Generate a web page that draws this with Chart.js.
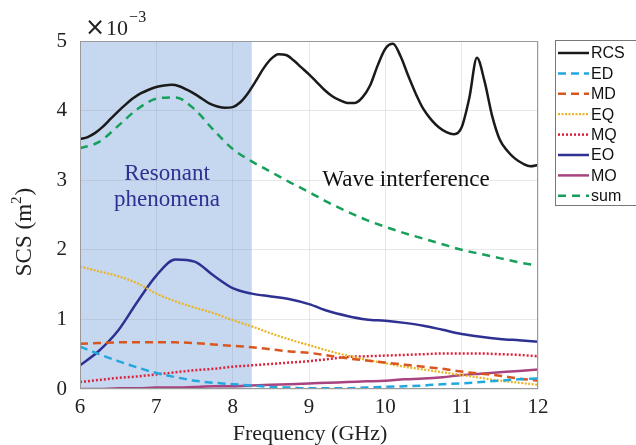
<!DOCTYPE html>
<html><head><meta charset="utf-8">
<script src="https://cdn.jsdelivr.net/npm/chart.js@4/dist/chart.umd.min.js"></script>
<style>html,body{margin:0;padding:0;background:#fff}#c{display:block}</style>
</head><body>
<canvas id="c" width="636" height="445"></canvas>
<script>
// Frequency grids (GHz)
const freqFine = [6.0,6.1,6.2,6.3,6.4,6.5,6.6,6.7,6.8,6.9,7.0,7.1,7.2,7.3,7.4,7.5,7.6,7.7,7.8,7.9,8.0,8.1,8.2,8.3,8.4,8.5,8.6,8.7,8.8,8.9,9.0,9.1,9.2,9.3,9.4,9.5,9.6,9.7,9.8,9.9,10.0,10.1,10.2,10.3,10.4,10.5,10.6,10.7,10.8,10.9,11.0,11.1,11.2,11.3,11.4,11.5,11.6,11.7,11.8,11.9,12.0];
const freq = [6.0,6.25,6.5,6.75,7.0,7.25,7.5,7.75,8.0,8.25,8.5,8.75,9.0,9.25,9.5,9.75,10.0,10.25,10.5,10.75,11.0,11.25,11.5,11.75,12.0];
// SCS values (x 1e-3 m^2)
const RCS = [3.59,3.62,3.68,3.77,3.88,3.99,4.09,4.18,4.25,4.30,4.34,4.36,4.37,4.35,4.30,4.24,4.17,4.10,4.06,4.04,4.05,4.12,4.25,4.42,4.60,4.74,4.81,4.80,4.72,4.62,4.52,4.41,4.30,4.21,4.15,4.11,4.11,4.19,4.36,4.65,4.89,4.96,4.78,4.50,4.24,4.02,3.87,3.76,3.69,3.66,3.76,4.18,4.76,4.42,3.92,3.58,3.42,3.31,3.24,3.20,3.22];
const ED  = [0.61,0.50,0.40,0.31,0.23,0.17,0.12,0.09,0.07,0.05,0.03,0.02,0.01,0.01,0.01,0.02,0.03,0.04,0.05,0.07,0.08,0.10,0.12,0.14,0.15];
const MD  = [0.65,0.66,0.67,0.67,0.67,0.67,0.66,0.64,0.62,0.60,0.57,0.54,0.52,0.48,0.44,0.41,0.38,0.35,0.32,0.29,0.25,0.22,0.19,0.15,0.12];
const EQ  = [1.76,1.69,1.62,1.52,1.37,1.26,1.17,1.09,0.99,0.90,0.80,0.71,0.63,0.55,0.48,0.42,0.37,0.32,0.28,0.24,0.20,0.16,0.12,0.09,0.06];
const MQ  = [0.10,0.13,0.16,0.18,0.21,0.24,0.27,0.29,0.32,0.34,0.36,0.38,0.40,0.43,0.46,0.47,0.48,0.49,0.50,0.51,0.51,0.51,0.50,0.49,0.47];
const EO  = [0.34,0.55,0.84,1.25,1.63,1.86,1.83,1.63,1.45,1.37,1.33,1.29,1.22,1.12,1.05,1.00,0.98,0.95,0.91,0.85,0.79,0.75,0.72,0.70,0.68];
const MO  = [0.00,0.00,0.01,0.01,0.02,0.02,0.03,0.04,0.04,0.05,0.06,0.07,0.08,0.09,0.10,0.11,0.12,0.14,0.15,0.17,0.20,0.22,0.24,0.26,0.28];
const SUM = [3.46,3.55,3.78,4.02,4.17,4.19,4.02,3.72,3.45,3.27,3.12,2.97,2.83,2.68,2.55,2.43,2.33,2.24,2.16,2.08,2.00,1.94,1.88,1.82,1.77];
const xTicks = [6,7,8,9,10,11,12];
const yTicks = [0,1,2,3,4,5];
const resonantRange = [6, 8.25];

const pts = (xs, ys) => xs.map((x, i) => ({x: x, y: ys[i]}));
const SERIF = '"Liberation Serif","DejaVu Serif",serif';

function ds(label, xs, ys, color, dash, width) {
  return {label, data: pts(xs, ys), borderColor: color, borderDash: dash, borderWidth: width,
    pointRadius: 0, fill: false, cubicInterpolationMode: 'monotone'};
}

const datasets = [
  ds('RCS', freqFine, RCS, '#1a1a1a', [], 2.5),
  ds('ED', freq, ED, '#22a7df', [8, 5], 2.5),
  ds('MD', freq, MD, '#d9561e', [8, 5], 2.5),
  ds('EQ', freq, EQ, '#e9b322', [2, 1.5], 2.2),
  ds('MQ', freq, MQ, '#e0213b', [2, 2], 2.5),
  ds('EO', freq, EO, '#2e3192', [], 2.5),
  ds('MO', freq, MO, '#a8447f', [], 2.5),
  ds('sum', freq, SUM, '#17a05a', [8, 6], 2.5)
];

const decor = {
  id: 'decor',
  beforeDraw(chart) {
    const {ctx, chartArea: a, scales: {x}} = chart;
    ctx.save();
    ctx.fillStyle = '#c6d8ef';
    const x0 = x.getPixelForValue(resonantRange[0]), x1 = x.getPixelForValue(resonantRange[1]);
    ctx.fillRect(x0, a.top, x1 - x0, a.bottom - a.top);
    ctx.restore();
  },
  afterDraw(chart) {
    const {ctx, chartArea: a} = chart;
    ctx.save();
    // box
    ctx.strokeStyle = '#9a9a9a'; ctx.lineWidth = 1;
    ctx.strokeRect(a.left + 0.5, a.top + 0.5, a.right - a.left - 1, a.bottom - a.top - 1);
    // exponent
    ctx.fillStyle = '#222'; ctx.textBaseline = 'alphabetic'; ctx.textAlign = 'left';
    ctx.font = '24px "DejaVu Sans",sans-serif';
    ctx.fillText('\u00d7', 85, 35);
    const wx = ctx.measureText('\u00d7').width;
    ctx.font = '22px ' + SERIF;
    ctx.fillText('10', 85 + wx + 1, 35);
    const w = wx + 1 + ctx.measureText('10').width;
    ctx.font = '16px ' + SERIF;
    ctx.fillText('\u22123', 85 + w + 1, 22);
    // axis titles
    ctx.font = '22px ' + SERIF; ctx.textAlign = 'center';
    ctx.fillText('Frequency (GHz)', 310, 440);
    ctx.save();
    ctx.translate(31, 232); ctx.rotate(-Math.PI / 2);
    ctx.textAlign = 'left';
    const t1 = 'SCS (m', t2 = '2', t3 = ')';
    ctx.font = '23px ' + SERIF;
    const w1 = ctx.measureText(t1).width, w3 = ctx.measureText(t3).width;
    ctx.font = '15px ' + SERIF;
    const w2 = ctx.measureText(t2).width;
    const total = w1 + w2 + w3 + 1;
    let px = -total / 2;
    ctx.font = '23px ' + SERIF; ctx.fillText(t1, px, 0); px += w1;
    ctx.font = '15px ' + SERIF; ctx.fillText(t2, px, -10); px += w2 + 1;
    ctx.font = '23px ' + SERIF; ctx.fillText(t3, px, 0);
    ctx.restore();
    // annotations
    ctx.textAlign = 'center';
    ctx.font = '23px ' + SERIF;
    ctx.fillStyle = '#2e3192';
    ctx.fillText('Resonant', 167, 180);
    ctx.fillText('phenomena', 167, 206);
    ctx.fillStyle = '#111';
    ctx.fillText('Wave interference', 406, 186);
    // legend
    const lx = 555.5, ly = 40.5, lh = 165;
    ctx.fillStyle = '#fff'; ctx.fillRect(lx, ly, 100, lh);
    ctx.strokeStyle = '#777'; ctx.lineWidth = 1; ctx.strokeRect(lx, ly, 100, lh);
    ctx.font = '16px "Liberation Sans",Arial,sans-serif'; ctx.textAlign = 'left'; ctx.textBaseline = 'middle';
    chart.data.datasets.forEach((d, i) => {
      const y = 53 + i * 20.4;
      ctx.strokeStyle = d.borderColor; ctx.lineWidth = d.borderWidth;
      ctx.setLineDash(d.borderDash || []);
      ctx.beginPath(); ctx.moveTo(558, y); ctx.lineTo(589, y); ctx.stroke();
      ctx.setLineDash([]);
      ctx.fillStyle = '#111';
      ctx.fillText(d.label, 591, y + 1);
    });
    ctx.restore();
  }
};

new Chart(document.getElementById('c'), {
  type: 'line',
  data: {datasets},
  options: {
    responsive: false, animation: false,
    layout: {padding: {top: 41, right: 98, left: 0, bottom: 0}},
    plugins: {legend: {display: false}, tooltip: {enabled: false}},
    scales: {
      x: {type: 'linear', min: 6, max: 12,
        afterBuildTicks: s => { s.ticks = xTicks.map(v => ({value: v})); },
        afterFit: s => { s.height = 56; },
        grid: {color: 'rgba(120,130,140,0.18)', drawTicks: false},
        border: {display: false},
        ticks: {padding: 6, color: '#222', font: {family: SERIF, size: 21}, maxRotation: 0}},
      y: {type: 'linear', min: 0, max: 5,
        afterBuildTicks: s => { s.ticks = yTicks.map(v => ({value: v})); },
        afterFit: s => { s.width = 80; },
        grid: {color: 'rgba(120,130,140,0.18)', drawTicks: false},
        border: {display: false},
        ticks: {padding: 13, color: '#222', font: {family: SERIF, size: 21}}}
    }
  },
  plugins: [decor]
});
</script>
</body></html>
